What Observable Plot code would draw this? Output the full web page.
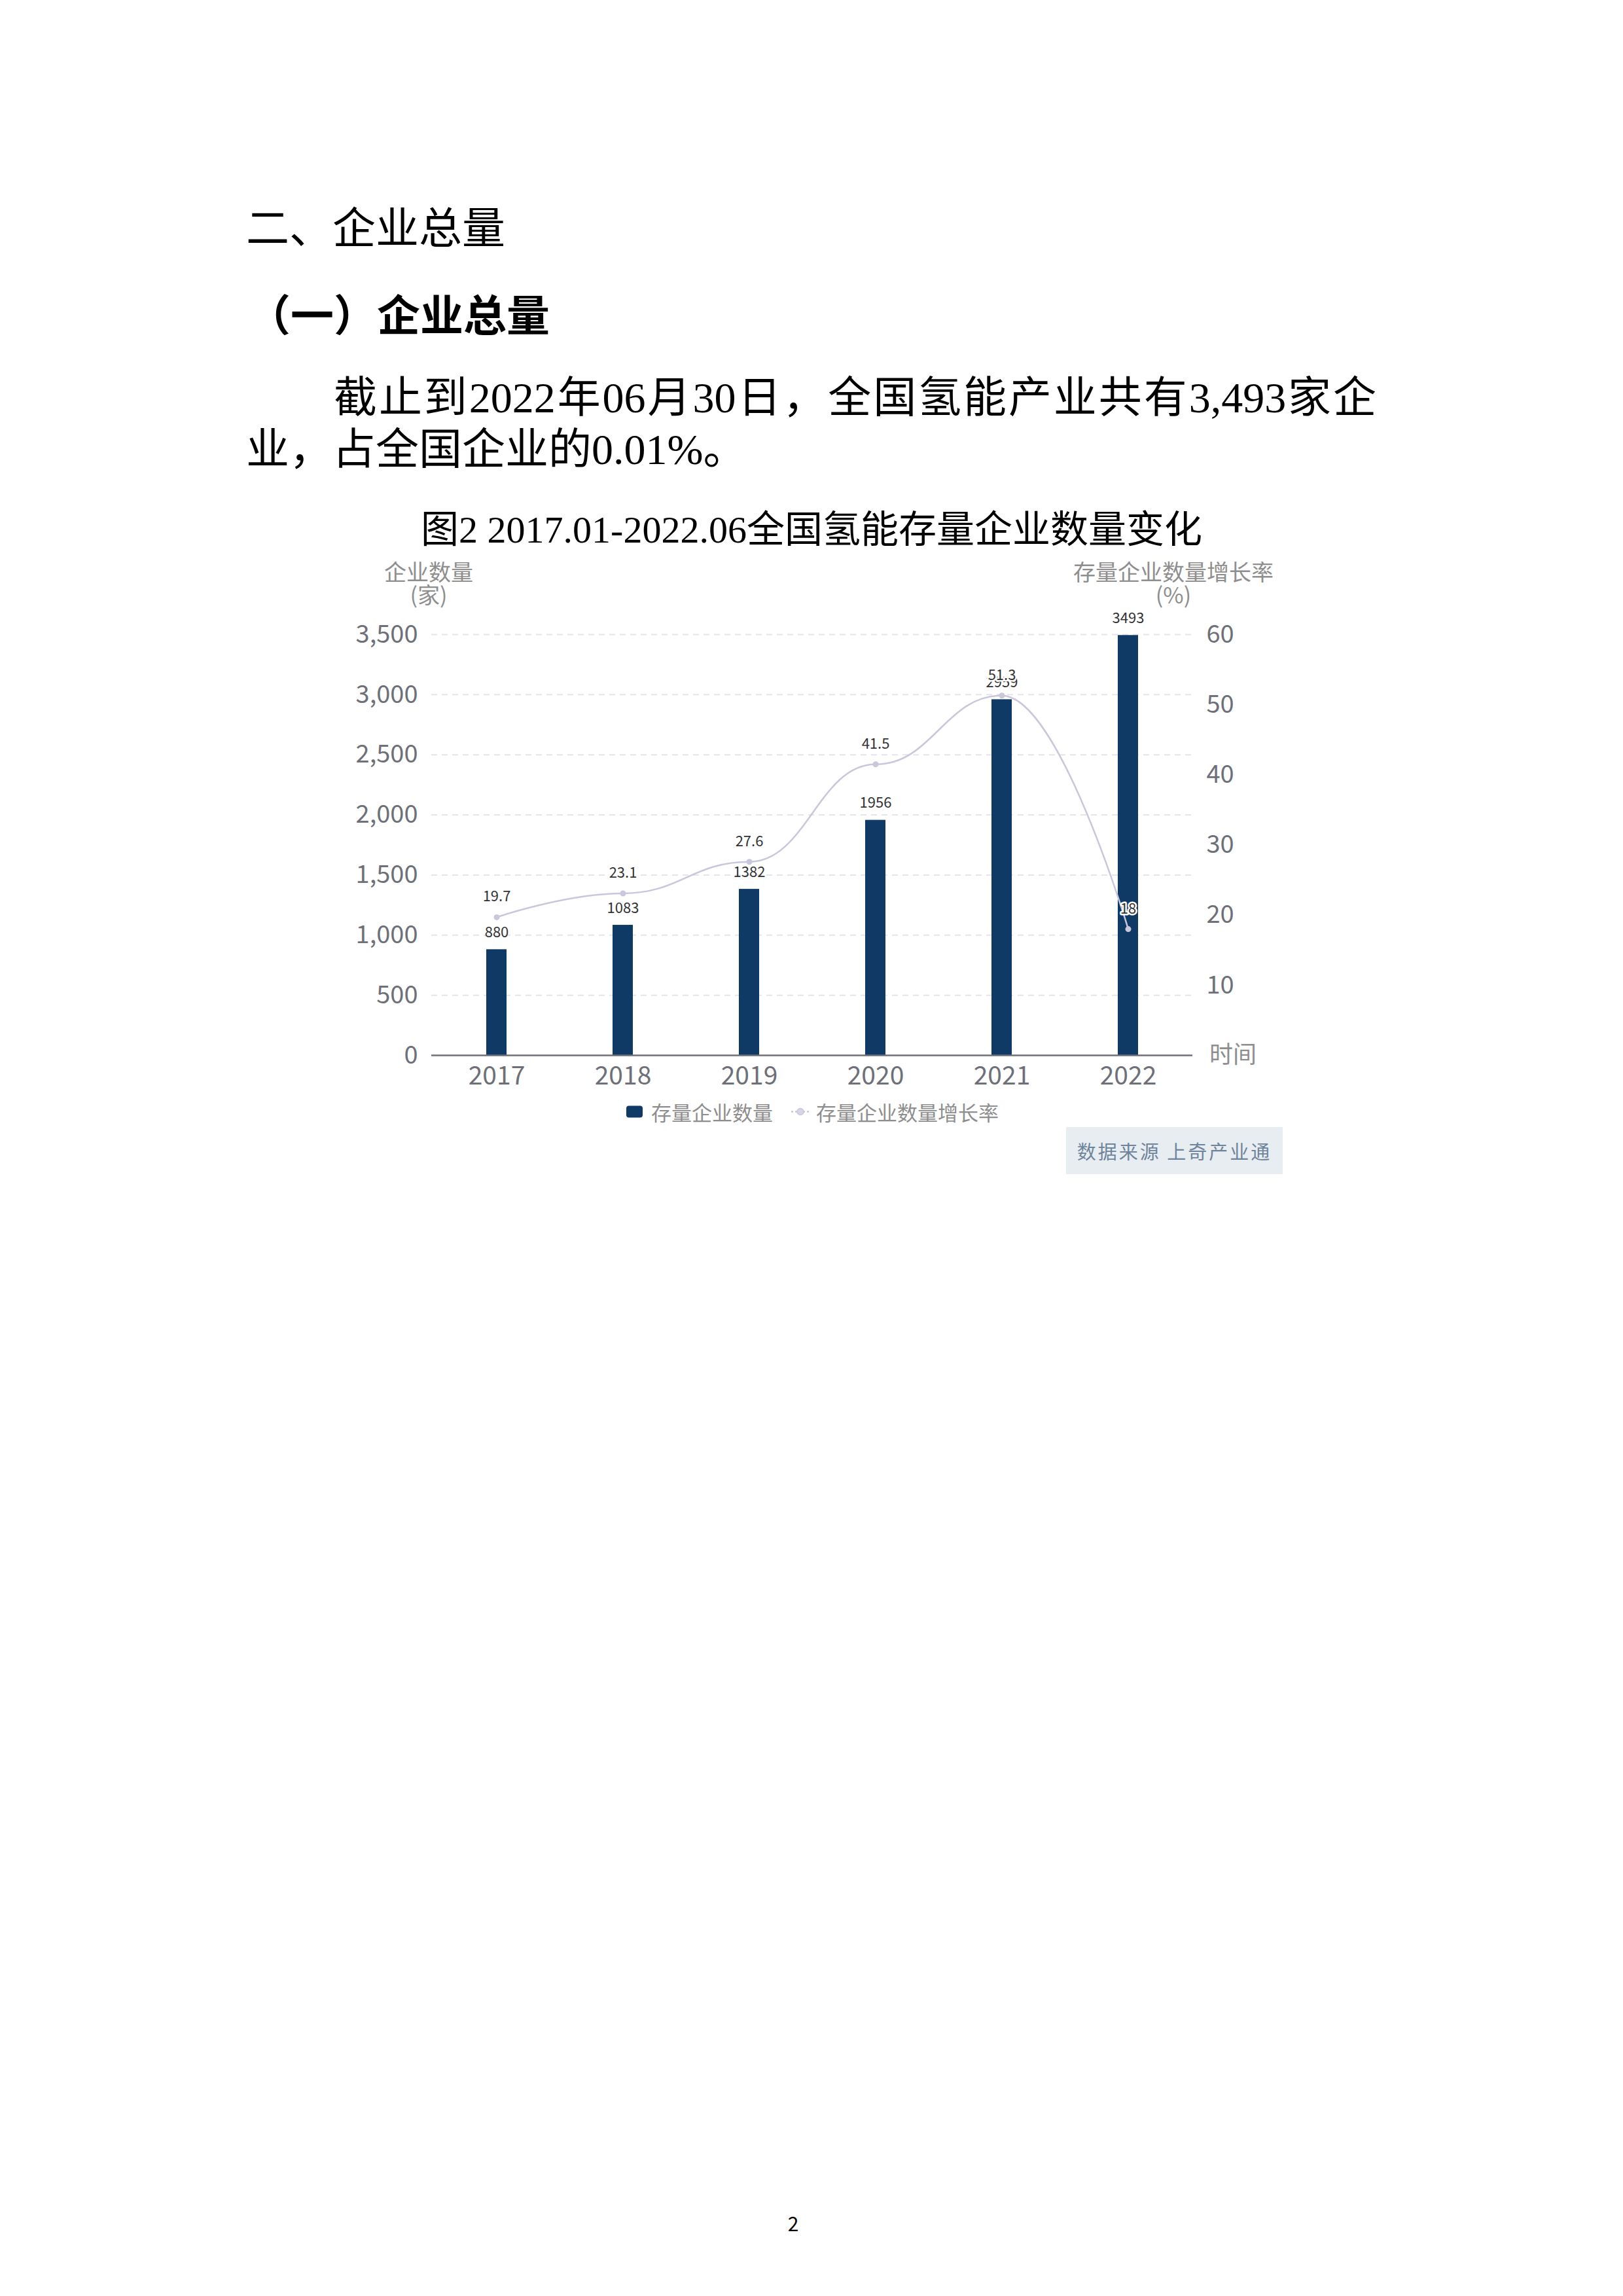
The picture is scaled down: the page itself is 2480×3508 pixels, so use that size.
<!DOCTYPE html>
<html>
<head>
<meta charset="utf-8">
<script src="https://cdn.jsdelivr.net/npm/d3@7"></script>
<script src="https://cdn.jsdelivr.net/npm/@observablehq/plot@0.6"></script>
<style>
html, body { margin: 0; padding: 0; background: #fff; }
#page { position: relative; width: 2480px; height: 3508px; overflow: hidden; background: #fff;
  font-family: "Noto Sans CJK SC", "Noto Sans", sans-serif; color: #000; }
.t { position: absolute; white-space: nowrap; line-height: 1; }
#chart { position: absolute; left: 0; top: 900px; }
#srcbox { position: absolute; left: 1629px; top: 1722px; width: 331px; height: 72px; background: #e8edf2;
  display: flex; align-items: center; justify-content: center; font-size: 29px; letter-spacing: 3px; color: #6f849b; white-space: nowrap; }
.legend { position: absolute; top: 1698px; transform: translateY(-50%); display: flex; align-items: center;
  font-size: 31px; color: #8e8e8e; white-space: nowrap; line-height: 1; }
.atitle { position: absolute; white-space: pre; text-align: center; font-size: 34px; line-height: 35px; color: #8e8e8e; transform: translate(-50%, -50%); }
</style>
</head>
<body>
<div id="page">
  <div class="t" style="left:376px;top:310px;font-size:66px;font-weight:400;">二、企业总量</div>
  <div class="t" style="left:378px;top:444px;font-size:66px;font-weight:700;">（一）企业总量</div>
  <div class="t" style="left:510px;top:575px;font-size:66px;width:1593px;text-align:justify;text-align-last:justify;white-space:normal;font-family:'Liberation Serif','Noto Sans CJK SC',serif;">截止到2022年06月30日，全国氢能产业共有3,493家企</div>
  <div class="t" style="left:376px;top:654px;font-size:66px;font-family:'Liberation Serif','Noto Sans CJK SC',serif;">业，占全国企业的0.01%。</div>
  <div class="t" style="left:1240px;top:810px;font-size:58px;transform:translate(-50%,-50%);font-family:'Liberation Serif','Noto Sans CJK SC',serif;">图2 2017.01-2022.06全国氢能存量企业数量变化</div>
  <div id="chart"></div>
  <div class="legend" style="left:957px;">
    <span style="display:inline-block;width:25px;height:18px;border-radius:4px;background:#0f3a66;margin-right:13px;"></span>
    <span>存量企业数量</span>
    <svg width="28" height="20" style="margin-left:28px;margin-right:10px;">
      <line x1="0" y1="10" x2="28" y2="10" stroke="#c8c7db" stroke-width="2.5" stroke-dasharray="3,3"></line>
      <circle cx="14" cy="10" r="5" fill="#d6d5e6" stroke="#c8c7db" stroke-width="1.5"></circle>
    </svg>
    <span>存量企业数量增长率</span>
  </div>
  <div id="srcbox">数据来源 上奇产业通</div>
  <div class="t" style="left:1212px;top:3396px;font-size:30px;transform:translate(-50%,-50%);">2</div>
</div>
<script>
// ---- data ----
const years = ["2017", "2018", "2019", "2020", "2021", "2022"];
const counts = [880, 1083, 1382, 1956, 2959, 3493];
const rates = [19.7, 23.1, 27.6, 41.5, 51.3, 18];
const leftTicks = [0, 500, 1000, 1500, 2000, 2500, 3000, 3500];
const rightTicks = [10, 20, 30, 40, 50, 60];
const leftMax = 3500;
const rightMax = 60;
const leftTitle = ["企业数量", "(家)"];
const rightTitle = ["存量企业数量增长率", "(%)"];
const xName = "时间";

const K = leftMax / rightMax; // maps rate axis onto count axis
const data = years.map((y, i) => ({year: y, count: counts[i], rate: rates[i]}));

// ECharts-like smooth curve: horizontal handles at interior points
function echartsSmooth(context) {
  let pts = [];
  const s = 0.45;
  return {
    areaStart() {}, areaEnd() {},
    lineStart() { pts = []; },
    point(x, y) { pts.push([+x, +y]); },
    lineEnd() {
      const n = pts.length;
      if (!n) return;
      context.moveTo(pts[0][0], pts[0][1]);
      for (let i = 0; i < n - 1; i++) {
        const [x0, y0] = pts[i], [x1, y1] = pts[i + 1];
        const dx = x1 - x0;
        const c0x = i === 0 ? x0 : x0 + dx * s;
        const c1x = i + 1 === n - 1 ? x1 : x1 - dx * s;
        context.bezierCurveTo(c0x, y0, c1x, y1, x1, y1);
      }
    }
  };
}

const lineColor = "#c8c7db";
const barColor = "#0f3a66";
const tickColor = "#6e7079";

const chart = Plot.plot({
  width: 2480,
  height: 782,
  marginLeft: 659,
  marginRight: 658,
  marginTop: 69,
  marginBottom: 70,
  style: {fontFamily: '"Noto Sans CJK SC", "Noto Sans", sans-serif', background: "transparent", overflow: "visible"},
  x: {domain: years, paddingInner: 0.84, paddingOuter: 0.42, label: null},
  y: {domain: [0, leftMax], label: null},
  marks: [
    Plot.gridY(leftTicks.filter(d => d > 0), {stroke: "#e2e6ec", strokeOpacity: 1, strokeWidth: 2, strokeDasharray: "9,7"}),
    Plot.barY(data, {x: "year", y: "count", fill: barColor}),
    Plot.ruleY([0], {stroke: tickColor, strokeWidth: 2.5}),
    Plot.axisY({anchor: "left", ticks: leftTicks, tickFormat: d3.format(","), tickSize: 0, tickPadding: 21, fontSize: 38, color: tickColor, label: null}),
    Plot.axisY({anchor: "right", ticks: rightTicks.map(r => r * K), tickFormat: d => String(Math.round(d / K)), tickSize: 0, tickPadding: 21, fontSize: 38, color: tickColor, label: null}),
    Plot.axisX({tickSize: 0, tickPadding: 17, fontSize: 39, color: tickColor, label: null}),
    Plot.text(data, {x: "year", y: "count", text: d => String(d.count), dy: -26, fontSize: 22, fill: "#333"}),
    Plot.line(data, {x: "year", y: d => d.rate * K, stroke: lineColor, strokeWidth: 2.5, curve: echartsSmooth}),
    Plot.dot(data, {x: "year", y: d => d.rate * K, r: 4.5, fill: lineColor, stroke: "none"}),
    Plot.text(data, {x: "year", y: d => d.rate * K, text: d => String(d.rate), dy: -31, fontSize: 22, fill: "#333", stroke: "white", strokeWidth: 5})
  ]
});
document.getElementById("chart").appendChild(chart);

// axis titles & axis name (HTML, outside SVG)
const page = document.getElementById("page");
function addTitle(lines, x, y) {
  const el = document.createElement("div");
  el.className = "atitle";
  el.textContent = lines.join("\n");
  el.style.left = x + "px";
  el.style.top = y + "px";
  page.appendChild(el);
}
addTitle(leftTitle, 655, 890);
addTitle(rightTitle, 1793, 890);

const xn = document.createElement("div");
xn.className = "t";
xn.textContent = xName;
xn.style.cssText += "left:1884px;top:1608px;font-size:36px;color:#8e8e8e;transform:translate(-50%,-50%);";
page.appendChild(xn);
</script>
</body>
</html>
